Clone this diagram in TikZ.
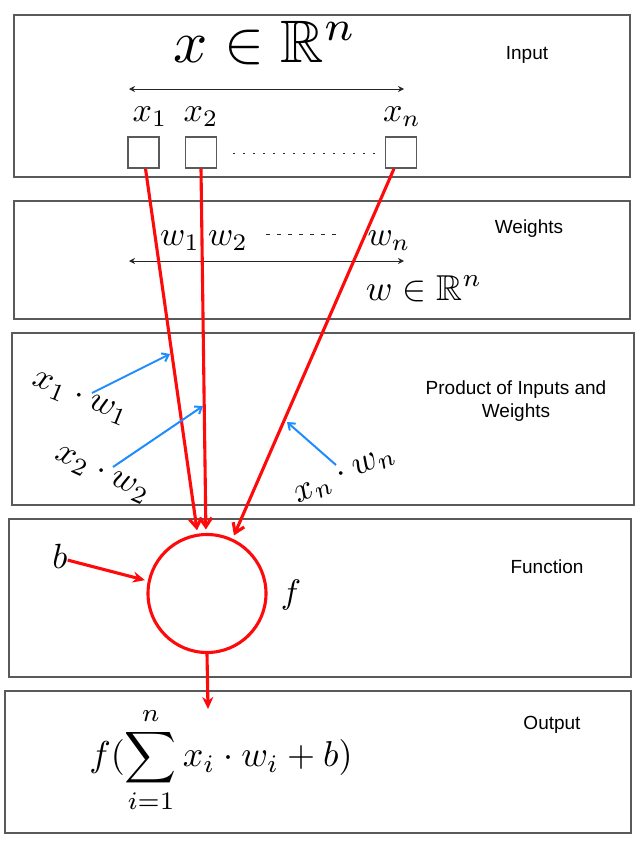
\documentclass[tikz,border=0pt]{standalone}
\usepackage{amssymb}
\usepackage{fontspec}
\newfontfamily\labfont{Liberation Sans}
\usetikzlibrary{arrows.meta}
\definecolor{panelgray}{HTML}{5A5A5A}
\definecolor{redline}{HTML}{FF0A0A}
\definecolor{bluearrow}{HTML}{1E8CFF}
\begin{document}
\begin{tikzpicture}[x=1pt,y=-1pt,
  panel/.style={draw=panelgray, line width=1.5pt, inner sep=0pt, outer sep=0pt},
  inbox/.style={draw=panelgray, line width=1.3pt, minimum size=31pt, inner sep=0pt},
  lab/.style={font=\labfont\fontsize{19}{23}\selectfont, align=center, inner sep=0pt},
  mth/.style={inner sep=0pt},
  dblarrow/.style={draw=black!85, line width=0.8pt, {Stealth[length=6pt,width=6pt]}-{Stealth[length=6pt,width=6pt]}},
  redbarb/.style={draw=redline, line width=3.1pt, -{Straight Barb[length=9pt,width=12pt]}, shorten >=3.5pt},
  redsolid/.style={draw=redline, line width=3.1pt, -{Stealth[length=12pt,width=11pt]}},
  bluearr/.style={draw=bluearrow, line width=2pt, -{Straight Barb[length=6pt,width=9pt]}}
]
\useasboundingbox (0,0) rectangle (640,849);
\fill[white] (0,0) rectangle (640,849);

% panels
\node[panel, minimum width=616pt, minimum height=162pt] (pin) at (322,96) {};
\node[panel, minimum width=616pt, minimum height=118pt] (pw) at (322,260) {};
\node[panel, minimum width=622pt, minimum height=172pt] (pp) at (322.75,419) {};
\node[panel, minimum width=622pt, minimum height=158pt] (pf) at (320,598) {};
\node[panel, minimum width=626pt, minimum height=142pt] (po) at (318,762) {};

% panel labels
\node[lab] (linput) at (527,55) {Input};
\node[lab] (lweights) at (529,229) {Weights};
\node[lab] (lprod) at (516,401) {Product of Inputs and\\Weights};
\node[lab] (lfunc) at (547,567) {Function};
\node[lab] (lout) at (552,725) {Output};

% Input panel
\node[mth, anchor=base] (xrn) at (265,62) {\scalebox{6}{$x\in\mathbb{R}^n$}};
\coordinate (ia) at (129,89);
\coordinate (ib) at (404,89);
\draw[dblarrow] (ia) -- (ib);
\node[mth, anchor=base] (lx1) at (150,121) {\scalebox{3.4}{$x_1$}};
\node[mth, anchor=base] (lx2) at (201,121) {\scalebox{3.4}{$x_2$}};
\node[mth, anchor=base] (lxn) at (402,121) {\scalebox{3.4}{$x_n$}};
\node[inbox] (sq1) at (143.5,152.5) {};
\node[inbox] (sq2) at (201,152.5) {};
\node[inbox] (sqn) at (401,152.5) {};
\draw[black!85, line width=1.8pt, dash pattern=on 1.6pt off 8.4pt] ([xshift=16pt,yshift=-1pt]sq2.east) coordinate (d1) -- ([xshift=-10pt,yshift=-1pt]sqn.west) coordinate (d2);

% Weights panel
\node[mth, anchor=base] (lw1) at (180,245) {\scalebox{3.4}{$w_1$}};
\node[mth, anchor=base] (lw2) at (228,245) {\scalebox{3.4}{$w_2$}};
\node[mth, anchor=base] (lwn) at (389,245) {\scalebox{3.4}{$w_n$}};
\coordinate (e1) at (266,234);
\coordinate (e2) at (341,234);
\draw[black!85, line width=1pt, dash pattern=on 4pt off 7pt] (e1) -- (e2);
\coordinate (wa) at (129,261);
\coordinate (wb) at (404,261);
\draw[dblarrow] (wa) -- (wb);
\node[mth, anchor=base] (wrn) at (424,300) {\scalebox{3.6}{$w\in\mathbb{R}^n$}};

% Product panel labels
\node[mth, rotate=-22] (p1) at (80,399) {\scalebox{3.5}{$x_1\cdot w_1$}};
\node[mth, rotate=-25] (p2) at (102,475) {\scalebox{3.5}{$x_2\cdot w_2$}};
\node[mth, rotate=25] (pn) at (345,476) {\scalebox{3.5}{$x_n\cdot w_n$}};

% Function panel
\node[draw=redline, line width=3.1pt, circle, minimum size=118pt, inner sep=0pt] (neuron) at (207,593.5) {};
\node[mth] (bb) at (60,556.5) {\scalebox{3.5}{$b$}};
\node[mth] (ff) at (291,595) {\scalebox{3.4}{$f$}};

% Output panel
\node[mth] (formula) at (221,760) {\scalebox{3.6}{$\displaystyle f(\sum_{i=1}^{n} x_i\cdot w_i+b)$}};
\coordinate (outtip) at (208,709);

% red connectors
\draw[redbarb] ([xshift=2pt]sq1.south) -- (neuron.99);
\draw[redbarb] (sq2.south) -- (neuron.91);
\draw[redbarb] ([xshift=-7pt]sqn.south) -- (neuron.65);
\draw[redsolid, shorten >=3pt] (bb.-25) -- (neuron.168);
\draw[redsolid] (neuron.south) -- (outtip);

% blue arrows
\coordinate (b1s) at (92,393);
\coordinate (b1e) at (170,354);
\coordinate (b2s) at (113,467);
\coordinate (b2e) at (203,406);
\coordinate (b3s) at (336,465);
\coordinate (b3e) at (287,422);
\draw[bluearr] (b1s) -- (b1e);
\draw[bluearr] (b2s) -- (b2e);
\draw[bluearr] (b3s) -- (b3e);
\end{tikzpicture}
\end{document}
